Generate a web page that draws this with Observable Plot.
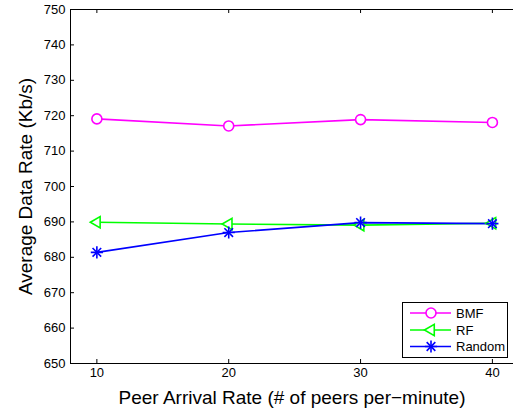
<!DOCTYPE html>
<html>
<head>
<meta charset="utf-8">
<script src="https://cdn.jsdelivr.net/npm/d3@7"></script>
<script src="https://cdn.jsdelivr.net/npm/@observablehq/plot@0.6"></script>
<style>
  html, body { margin: 0; padding: 0; background: #fff; }
  #wrap { position: relative; width: 513px; height: 409px; font-family: "Liberation Sans", Arial, Helvetica, sans-serif; }
  #legend { position: absolute; left: 402px; top: 302px; width: 104px; height: 54px; border: 1px solid #000; background: #fff; }
</style>
</head>
<body>
<div id="wrap"><div id="chart"></div><div id="legend"></div></div>
<script>
const peerRates = [10, 20, 30, 40];
const bmf = [719.1, 717.1, 718.9, 718.1];
const rf = [689.9, 689.4, 689.1, 689.6];
const random = [681.4, 687.0, 689.8, 689.5];
const xTicks = [10, 20, 30, 40];
const yTicks = [650, 660, 670, 680, 690, 700, 710, 720, 730, 740, 750];
const seriesNames = ["BMF", "RF", "Random"];
const seriesColors = ["#ff00ff", "#00ff00", "#0000ff"];
const xTitle = "Peer Arrival Rate (# of peers per\u2212minute)";
const yTitle = "Average Data Rate (Kb/s)";

const rows = (vals) => peerRates.map((x, i) => ({x, y: vals[i]}));
const dBmf = rows(bmf), dRf = rows(rf), dRandom = rows(random);

const W = 513, H = 409, mT = 9, mB = 46, mL = 70, mR = 0;
const innerH = H - mT - mB;

const chart = Plot.plot({
  width: W, height: H,
  marginLeft: mL, marginRight: mR, marginTop: mT, marginBottom: mB,
  style: {fontFamily: '"Liberation Sans", Arial, Helvetica, sans-serif', background: "#fff"},
  x: {domain: [8, 41.6], axis: null},
  y: {domain: [650, 750], axis: null},
  marks: [
    Plot.ruleY([650, 750], {stroke: "#000", strokeWidth: 1}),
    Plot.ruleX([8], {stroke: "#000", strokeWidth: 1}),
    // inner ticks bottom / top / left
    Plot.tickX(xTicks, {x: d => d, insetTop: innerH - 4, stroke: "#000"}),
    Plot.tickX(xTicks, {x: d => d, insetBottom: innerH - 4, stroke: "#000"}),
    Plot.tickY(yTicks, {y: d => d, insetRight: (W - mL - mR) - 4, stroke: "#000"}),
    Plot.axisX(xTicks, {anchor: "bottom", tickSize: 0, tickPadding: 4, fontSize: 13, label: null, tickFormat: d => String(d), fill: "#000"}),
    Plot.axisY(yTicks, {anchor: "left", tickSize: 0, tickPadding: 5, fontSize: 13, label: null, tickFormat: d => String(d), fill: "#000"}),
    Plot.text([xTitle], {frameAnchor: "bottom", dy: 34, fontSize: 19, text: d => d, fill: "#000", lineAnchor: "middle", textAnchor: "middle"}),
    Plot.text([yTitle], {frameAnchor: "left", dx: -45, rotate: -90, fontSize: 19, text: d => d, fill: "#000", lineAnchor: "middle", textAnchor: "middle"}),
    // series
    Plot.line(dBmf, {x: "x", y: "y", stroke: seriesColors[0], strokeWidth: 1.6}),
    Plot.line(dRf, {x: "x", y: "y", stroke: seriesColors[1], strokeWidth: 1.6}),
    Plot.line(dRandom, {x: "x", y: "y", stroke: seriesColors[2], strokeWidth: 1.6}),
    Plot.dot(dBmf, {x: "x", y: "y", symbol: "circle", r: 5, stroke: seriesColors[0], fill: "#fff", strokeWidth: 1.6}),
    Plot.dot(dRf, {x: "x", y: "y", symbol: "triangle", r: 4.2, rotate: -90, stroke: seriesColors[1], fill: "#fff", strokeWidth: 1.6}),
    Plot.dot(dRandom, {x: "x", y: "y", symbol: "plus", r: 4, stroke: seriesColors[2], strokeWidth: 1.6}),
    Plot.dot(dRandom, {x: "x", y: "y", symbol: "times", r: 4, stroke: seriesColors[2], strokeWidth: 1.6})
  ]
});
document.getElementById("chart").appendChild(chart);

// Legend
const lg = d3.select("#legend").append("svg").attr("width", 104).attr("height", 54)
  .style("display", "block");
const symbols = [
  [{t: d3.symbolCircle, r: 5, rot: 0, fill: "#fff"}],
  [{t: d3.symbolTriangle, r: 4.2, rot: -90, fill: "#fff"}],
  [{t: d3.symbolPlus, r: 4, rot: 0, fill: "none"}, {t: d3.symbolTimes, r: 4, rot: 0, fill: "none"}]
];
const rowY = [10, 27, 43.5];
seriesNames.forEach((name, i) => {
  const g = lg.append("g").attr("transform", `translate(0,${rowY[i]})`);
  g.append("line").attr("x1", 7).attr("x2", 48).attr("y1", 0).attr("y2", 0)
    .attr("stroke", seriesColors[i]).attr("stroke-width", 1.6);
  symbols[i].forEach(s => {
    g.append("path").attr("d", d3.symbol(s.t, Math.PI * s.r * s.r)())
      .attr("transform", `translate(28,0) rotate(${s.rot})`)
      .attr("fill", s.fill).attr("stroke", seriesColors[i]).attr("stroke-width", 1.6);
  });
  g.append("text").attr("x", 53).attr("y", 0).attr("dy", "0.35em")
    .attr("font-size", 13).attr("font-family", '"Liberation Sans", Arial, sans-serif')
    .attr("fill", "#000").text(name);
});
</script>
</body>
</html>
